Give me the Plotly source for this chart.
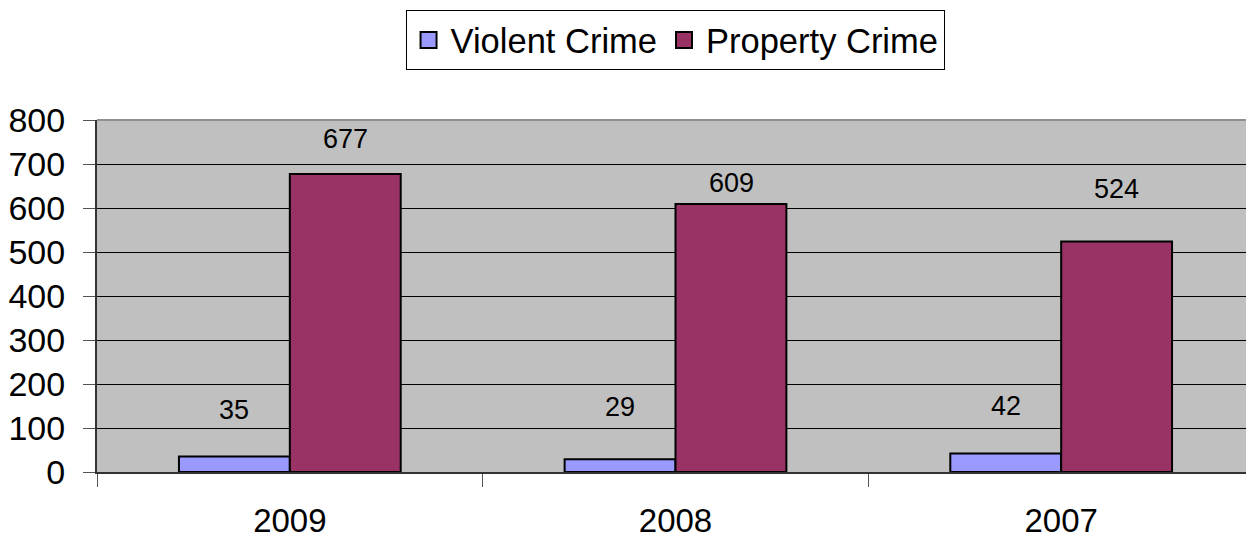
import plotly.graph_objects as go

years = ["2009", "2008", "2007"]
violent = [35, 29, 42]
prop = [677, 609, 524]
series_names = ["Violent Crime", "Property Crime"]
series_colors = ["#9999FF", "#993366"]
y_ticks = [0, 100, 200, 300, 400, 500, 600, 700, 800]

# label vertical offsets (px) above bar tops, as in the reference
viol_label_shift = [47, 52, 48]
prop_label_shift = [35, 21, 52]

FONT = "Liberation Sans, Arial, sans-serif"

fig = go.Figure()
for name, vals, col in zip(series_names, [violent, prop], series_colors):
    fig.add_trace(go.Bar(x=years, y=vals, name=name, showlegend=False, legendgroup=name,
                         marker=dict(color=col, line=dict(color="black", width=2))))
# legend entries with larger square swatches
for name, col in zip(series_names, series_colors):
    fig.add_trace(go.Scatter(x=[None], y=[None], mode="markers", name=name, legendgroup=name,
                             marker=dict(symbol="square", size=22, color=col,
                                         line=dict(color="black", width=2))))

annotations = []
for i, yr in enumerate(years):
    annotations.append(dict(x=i, y=violent[i], text=str(violent[i]), xref="x", yref="y",
                            showarrow=False, xshift=-55.5, yshift=viol_label_shift[i],
                            font=dict(size=27, color="black", family=FONT)))
    annotations.append(dict(x=i, y=prop[i], text=str(prop[i]), xref="x", yref="y",
                            showarrow=False, xshift=55.5, yshift=prop_label_shift[i],
                            font=dict(size=27, color="black", family=FONT)))

fig.update_layout(
    width=1254, height=539,
    margin=dict(l=89, r=8, t=112, b=75, autoexpand=False),
    paper_bgcolor="white", plot_bgcolor="#C0C0C0",
    barmode="group", bargap=0.425, bargroupgap=0,
    font=dict(family=FONT, size=33, color="black"),
    showlegend=True,
    legend=dict(orientation="h", x=0.4996, xanchor="center", y=1.3125, yanchor="top",
                bordercolor="black", borderwidth=1, bgcolor="white",
                font=dict(size=34.5, family=FONT), itemwidth=34, itemsizing="trace",
                traceorder="normal"),
    annotations=annotations,
    xaxis=dict(type="category", range=[-0.5, 2.5], showgrid=False, showline=True,
               linecolor="#333333", linewidth=2,
               ticks="outside", tickson="boundaries", ticklen=13, tickcolor="#555555", tickwidth=1,
               tickfont=dict(size=33, family=FONT), ticklabelstandoff=18, tickangle=0,
               automargin=False),
    yaxis=dict(range=[0, 800], tickvals=y_ticks, showgrid=True, gridcolor="black", gridwidth=1,
               showline=True, linecolor="#333333", linewidth=2, zeroline=False,
               ticks="outside", ticklen=12, tickcolor="#555555",
               tickfont=dict(size=34, family=FONT), ticklabelstandoff=11, automargin=False),
)
fig.add_shape(type="line", xref="paper", yref="paper", x0=0, x1=1, y0=1, y1=1,
              line=dict(color="#909090", width=2))

fig.write_html("out.html")
